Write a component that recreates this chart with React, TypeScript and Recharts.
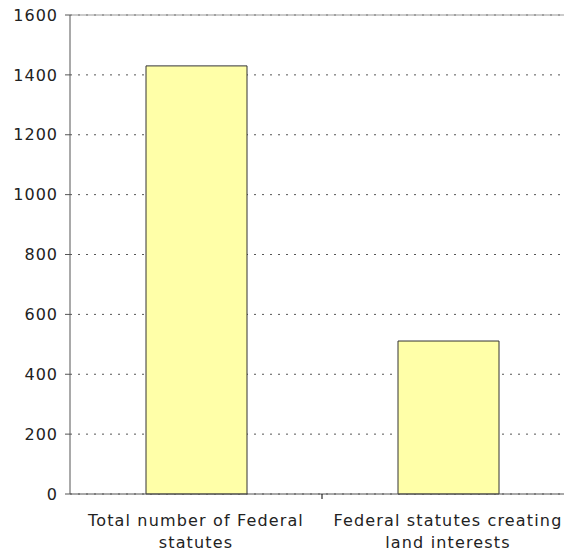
import { BarChart, Bar, XAxis, YAxis, CartesianGrid, ReferenceLine, Text } from 'recharts';

const categories = ['Total number of Federal statutes', 'Federal statutes creating land interests'];
const counts = [1430, 511];
const yTicks = [0, 200, 400, 600, 800, 1000, 1200, 1400, 1600];

const chartData = categories.map((name, i) => ({ name, count: counts[i] }));

const FONT = '"DejaVu Sans", Verdana, sans-serif';
const labelStyle = { fontSize: 16, fontFamily: FONT, letterSpacing: 1 };
const catStyle = { ...labelStyle, letterSpacing: 1.15 };

// category label, plus the divider tick between categories (Excel style)
function CategoryTick(props: any) {
  const { x, y, payload, index } = props;
  const half = payload?.offset ?? 126;
  return (
    <g>
      {index < categories.length - 1 && (
        <line x1={x + half} y1={y - 8} x2={x + half} y2={y - 3} stroke="#000" />
      )}
      {/* width is measured without letter spacing, so keep it tight */}
      <Text
        x={x}
        y={y + 13}
        width={205}
        textAnchor="middle"
        verticalAnchor="start"
        style={catStyle}
        fill="#222"
        lineHeight={22}
      >
        {payload.value}
      </Text>
    </g>
  );
}

export default function App() {
  return (
    <div style={{ position: 'absolute', left: 0, top: 0, width: 564, height: 554, overflow: 'hidden', background: '#fff' }}>
      <BarChart
        width={580}
        height={554}
        data={chartData}
        margin={{ top: 15, right: 6, left: 0, bottom: 0 }}
      >
        <CartesianGrid vertical={false} stroke="#555" strokeDasharray="2 6" />
        <ReferenceLine y={1600} stroke="#999" />
        <XAxis
          dataKey="name"
          height={60}
          axisLine={{ stroke: '#555' }}
          tickLine={false}
          tick={<CategoryTick />}
          interval={0}
        />
        <YAxis
          width={70}
          domain={[0, 1600]}
          ticks={yTicks}
          axisLine={{ stroke: '#555' }}
          tickLine={{ stroke: '#555' }}
          tickSize={5}
          tickMargin={7}
          tick={{ fill: '#222', ...labelStyle }}
        />
        <Bar dataKey="count" fill="#FFFFA8" stroke="#333" strokeWidth={1} barSize={101} isAnimationActive={false} />
      </BarChart>
    </div>
  );
}
